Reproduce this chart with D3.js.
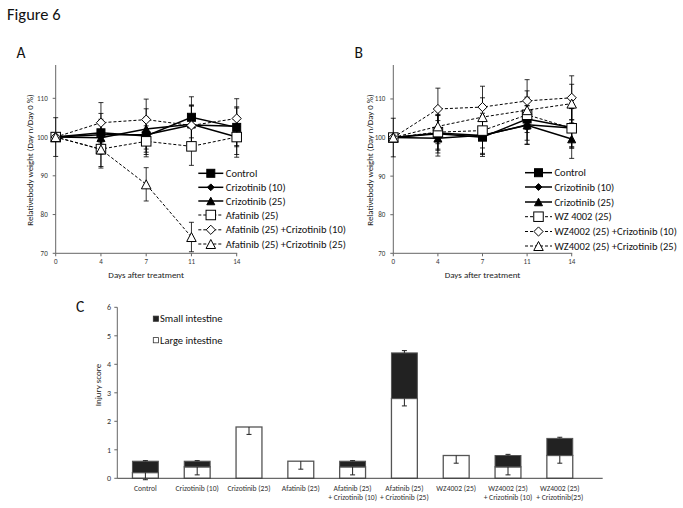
<!DOCTYPE html>
<html>
<head>
<meta charset="utf-8">
<script src="https://cdn.jsdelivr.net/npm/d3@7"></script>
<style>
	body { margin: 0; background: #fff; }
	svg { display: block; font-family: Carlito, Lato, "Liberation Sans", sans-serif; }
</style>
</head>
<body>
<svg width="683" height="508"></svg>
<script>
// ---- data ----
var days = ['0', '4', '7', '11', '14'];

var namesA = ['Control', 'Crizotinib (10)', 'Crizotinib (25)', 'Afatinib (25)',
	'Afatinib (25) +Crizotinib (10)', 'Afatinib (25) +Crizotinib (25)'];
var valuesA = [
	[100, 101.1, 100.3, 105.1, 102.5],
	[100, 100.6, 100.6, 103.1, 102.8],
	[100, 99.8, 102.1, 103.3, 100],
	[100, 96.9, 98.9, 97.6, 100],
	[100, 103.7, 104.5, 103, 104.8],
	[100, 96.8, 87.8, 74.2, null]
];
var errorsA = [
	[5, 5, 4.8, 5.3, 5],
	[0, 4, 4.5, 5, 5],
	[0, 4.2, 5.2, 5, 4.5],
	[0, 4.5, 4, 4.9, 5.2],
	[0, 5.2, 5.3, 5, 5.1],
	[0, 4.8, 4.3, 3.8, null]
];

var namesB = ['Control', 'Crizotinib (10)', 'Crizotinib (25)', 'WZ 4002 (25)',
	'WZ4002 (25) +Crizotinib (10)', 'WZ4002 (25) +Crizotinib (25)'];
var valuesB = [
	[100, 101, 100.1, 104.8, 102.6],
	[100, 101.2, 100.5, 103.3, 102.5],
	[100, 99.8, 100.6, 103.2, 99.6],
	[100, 101.4, 101.8, 105.9, 102.4],
	[100, 107.4, 107.9, 109.5, 110.3],
	[100, 102.9, 105.3, 107.1, 108.8]
];
var errorsB = [
	[5, 5, 5, 5.5, 5],
	[0, 4.5, 4.6, 5, 5],
	[0, 4.6, 5, 5, 5],
	[0, 4.4, 4.5, 4.6, 5.2],
	[0, 5.4, 5.4, 5.5, 5.7],
	[0, 4.5, 5, 5, 5]
];

var markerTypes = ['squareFilled', 'diamondFilled', 'triangleFilled', 'square', 'diamond', 'triangle'];
var dashed = [false, false, false, true, true, true];

var groupsC = [
	['Control'], ['Crizotinib (10)'], ['Crizotinib (25)'], ['Afatinib (25)'],
	['Afatinib (25)', '+ Crizotinib (10)'], ['Afatinib (25)', '+ Crizotinib (25)'],
	['WZ4002 (25)'], ['WZ4002 (25)', '+ Crizotinib (10)'], ['WZ4002 (25)', '+ Crizotinib(25)']
];
var largeC = [0.2, 0.4, 1.8, 0.6, 0.4, 2.8, 0.8, 0.4, 0.8];
var smallC = [0.4, 0.2, 0, 0, 0.2, 1.6, 0, 0.4, 0.6];
var largeErrC = [0.25, 0.28, 0.26, 0.28, 0.28, 0.26, 0.27, 0.28, 0.27];
var smallErrC = [0.02, 0.02, 0, 0, 0.02, 0.08, 0, 0.04, 0.04];
var ticksC = [0, 1, 2, 3, 4, 5, 6];
var ticksW = [70, 80, 90, 100, 110];

var svg = d3.select('svg');
svg.append('rect').attr('width', 683).attr('height', 508).attr('fill', '#fff');

function marker(g, type, cx, cy) {
	var p;
	if (type === 'squareFilled' || type === 'square') {
		var s = type === 'square' ? 9.5 : 8;
		p = g.append('rect').attr('x', cx - s / 2).attr('y', cy - s / 2).attr('width', s).attr('height', s);
	} else if (type === 'diamondFilled' || type === 'diamond') {
		var r = type === 'diamond' ? 4.6 : 3.4;
		p = g.append('path').attr('d', 'M' + cx + ',' + (cy - r) + 'L' + (cx + r) + ',' + cy +
			'L' + cx + ',' + (cy + r) + 'L' + (cx - r) + ',' + cy + 'Z');
	} else {
		var h = type === 'triangle' ? 9 : 7.5;
		var w = type === 'triangle' ? 9.5 : 8;
		p = g.append('path').attr('d', 'M' + cx + ',' + (cy - h / 2) + 'L' + (cx + w / 2) + ',' + (cy + h / 2) +
			'L' + (cx - w / 2) + ',' + (cy + h / 2) + 'Z');
	}
	var filled = type.indexOf('Filled') >= 0;
	p.attr('fill', filled ? '#000' : '#fff').attr('stroke', '#000').attr('stroke-width', 1);
}

function weightPanel(opt) {
	var x = d3.scalePoint().domain(days).range([opt.x0, opt.x1]);
	var y = d3.scaleLinear().domain([70, opt.top]).range([253.3, 65]);
	var g = svg.append('g');

	// axes
	g.append('line').attr('x1', opt.x0).attr('x2', opt.x0).attr('y1', 65).attr('y2', 253.3)
		.attr('stroke', '#666').attr('stroke-width', 1);
	g.append('line').attr('x1', opt.x0).attr('x2', opt.x1 + 0.5).attr('y1', 253.3).attr('y2', 253.3)
		.attr('stroke', '#666').attr('stroke-width', 1);
	ticksW.forEach(function(t) {
		g.append('line').attr('x1', opt.x0 - 3).attr('x2', opt.x0).attr('y1', y(t)).attr('y2', y(t))
			.attr('stroke', '#666');
		g.append('text').attr('x', opt.x0 - 8).attr('y', y(t)).attr('dy', '0.35em')
			.attr('text-anchor', 'end').attr('font-size', 7).attr('fill', '#333').text(t);
	});
	days.forEach(function(d) {
		g.append('line').attr('x1', x(d)).attr('x2', x(d)).attr('y1', 253.3).attr('y2', 256.3)
			.attr('stroke', '#666');
		g.append('text').attr('x', x(d)).attr('y', 262).attr('dy', '0.35em')
			.attr('text-anchor', 'middle').attr('font-size', 7).attr('fill', '#333').text(d);
	});
	g.append('text').attr('x', (opt.x0 + opt.x1) / 2).attr('y', 274.5).attr('dy', '0.35em')
		.attr('text-anchor', 'middle').attr('font-size', 9).attr('fill', '#222').text('Days after treatment');
	g.append('text').attr('transform', 'translate(' + opt.titleX + ',160) rotate(-90)')
		.attr('text-anchor', 'middle').attr('dy', '0.35em').attr('font-size', 8.8).attr('fill', '#222')
		.text('Relativebody weight (Day n/Day 0 %)');
	svg.append('text').attr('x', opt.labelX).attr('y', 57.5).attr('font-size', 15.5).attr('fill', '#111')
		.text(opt.label);

	// error bars
	opt.values.forEach(function(vals, i) {
		vals.forEach(function(v, j) {
			var e = opt.errors[i][j];
			if (v === null || !e) return;
			var cx = x(days[j]);
			g.append('line').attr('x1', cx).attr('x2', cx).attr('y1', y(v - e)).attr('y2', y(v + e))
				.attr('stroke', '#000').attr('stroke-width', 0.8);
			[v - e, v + e].forEach(function(w) {
				g.append('line').attr('x1', cx - 2.5).attr('x2', cx + 2.5).attr('y1', y(w)).attr('y2', y(w))
					.attr('stroke', '#000').attr('stroke-width', 0.8);
			});
		});
	});

	// series
	var line = d3.line()
		.defined(function(d) { return d.v !== null; })
		.x(function(d) { return x(d.day); })
		.y(function(d) { return y(d.v); });
	opt.values.forEach(function(vals, i) {
		var pts = vals.map(function(v, j) { return {day: days[j], v: v}; });
		g.append('path').attr('d', line(pts)).attr('fill', 'none').attr('stroke', '#000')
			.attr('stroke-width', dashed[i] ? 1 : 1.5)
			.attr('stroke-dasharray', dashed[i] ? '3,2' : null);
		pts.forEach(function(p) {
			if (p.v !== null) marker(g, markerTypes[i], x(p.day), y(p.v));
		});
	});

	// legend
	opt.names.forEach(function(n, i) {
		var ly = opt.legY[i];
		g.append('line').attr('x1', opt.legX0).attr('x2', opt.legX1).attr('y1', ly).attr('y2', ly)
			.attr('stroke', '#000').attr('stroke-width', dashed[i] ? 1 : 1.5)
			.attr('stroke-dasharray', dashed[i] ? '3,2' : null);
		marker(g, markerTypes[i], (opt.legX0 + opt.legX1) / 2, ly);
		g.append('text').attr('x', opt.legX1 + 2.5).attr('y', ly).attr('dy', '0.35em')
			.attr('font-size', 10.5).attr('fill', '#111').text(n);
	});
}

svg.append('text').attr('x', 7).attr('y', 19.5).attr('font-size', 16.5).attr('fill', '#111').text('Figure 6');

weightPanel({
	x0: 55.7, x1: 236.7, top: 118.6, values: valuesA, errors: errorsA, names: namesA,
	titleX: 29.5, label: 'A', labelX: 16.5,
	legX0: 198.3, legX1: 223.3, legY: [173.3, 187.3, 201, 215, 229.8, 244]
});
weightPanel({
	x0: 393.3, x1: 571.7, top: 118.8, values: valuesB, errors: errorsB, names: namesB,
	titleX: 370, label: 'B', labelX: 354.5,
	legX0: 525, legX1: 552, legY: [172.7, 187, 202, 216.7, 231.5, 246]
});

// ---- panel C ----
var yC = d3.scaleLinear().domain([0, 6]).range([478.3, 307.3]);
var xC = d3.scaleBand().domain(d3.range(groupsC.length)).range([119.5, 585.7]).paddingInner(0.5).paddingOuter(0.25);
var gc = svg.append('g');
svg.append('text').attr('x', 76).attr('y', 312).attr('font-size', 15.5).attr('fill', '#111').text('C');

gc.append('line').attr('x1', 117.3).attr('x2', 117.3).attr('y1', yC(6)).attr('y2', yC(0)).attr('stroke', '#666');
ticksC.forEach(function(t) {
	gc.append('line').attr('x1', 114.3).attr('x2', 117.3).attr('y1', yC(t)).attr('y2', yC(t)).attr('stroke', '#666');
	gc.append('text').attr('x', 111).attr('y', yC(t)).attr('dy', '0.35em').attr('text-anchor', 'end')
		.attr('font-size', 8).attr('fill', '#333').text(t);
});
gc.append('text').attr('transform', 'translate(97.5,385) rotate(-90)').attr('text-anchor', 'middle')
	.attr('dy', '0.35em').attr('font-size', 9).attr('fill', '#222').text('Injury score');

groupsC.forEach(function(lab, i) {
	var bx = xC(i), bw = xC.bandwidth(), cx = bx + bw / 2;
	var L = largeC[i], S = smallC[i];
	gc.append('rect').attr('x', bx).attr('y', yC(L)).attr('width', bw).attr('height', yC(0) - yC(L))
		.attr('fill', '#fff').attr('stroke', '#555').attr('stroke-width', 1.3);
	if (S > 0) {
		gc.append('rect').attr('x', bx).attr('y', yC(L + S)).attr('width', bw).attr('height', yC(L) - yC(L + S))
			.attr('fill', '#222').attr('stroke', '#555').attr('stroke-width', 1);
		var se = smallErrC[i];
		gc.append('line').attr('x1', cx).attr('x2', cx).attr('y1', yC(L + S)).attr('y2', yC(L + S + se))
			.attr('stroke', '#222').attr('stroke-width', 1);
		gc.append('line').attr('x1', cx - 2.5).attr('x2', cx + 2.5).attr('y1', yC(L + S + se)).attr('y2', yC(L + S + se))
			.attr('stroke', '#222').attr('stroke-width', 1);
	}
	var le = largeErrC[i];
	gc.append('line').attr('x1', cx).attr('x2', cx).attr('y1', yC(L)).attr('y2', yC(L - le))
		.attr('stroke', '#222').attr('stroke-width', 1);
	gc.append('line').attr('x1', cx - 2.5).attr('x2', cx + 2.5).attr('y1', yC(L - le)).attr('y2', yC(L - le))
		.attr('stroke', '#222').attr('stroke-width', 1);
	lab.forEach(function(t, k) {
		gc.append('text').attr('x', cx).attr('y', 488.3 + k * 9.4).attr('dy', '0.35em')
			.attr('text-anchor', 'middle').attr('font-size', 7.6).attr('fill', '#333').text(t);
	});
});
gc.append('line').attr('x1', 117.3).attr('x2', 602.7).attr('y1', yC(0)).attr('y2', yC(0)).attr('stroke', '#444');

// legend C
[['Small intestine', '#222'], ['Large intestine', '#fff']].forEach(function(d, i) {
	var ly = 318.7 + i * 21.5;
	gc.append('rect').attr('x', 153.3).attr('y', ly - 2.6).attr('width', 5.2).attr('height', 5.2)
		.attr('fill', d[1]).attr('stroke', '#333').attr('stroke-width', 0.8);
	gc.append('text').attr('x', 160).attr('y', ly).attr('dy', '0.35em').attr('font-size', 10.5)
		.attr('fill', '#111').text(d[0]);
});
</script>
</body>
</html>
